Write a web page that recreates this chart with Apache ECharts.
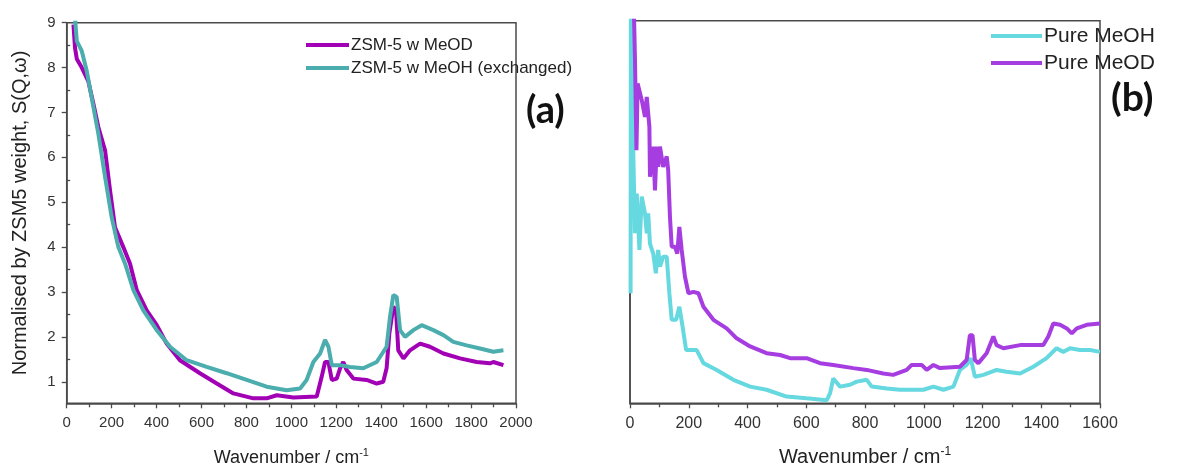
<!DOCTYPE html>
<html><head><meta charset="utf-8">
<script src="https://cdn.jsdelivr.net/npm/echarts@6/dist/echarts.min.js"></script>
<style>html,body{margin:0;padding:0;background:#fff}#c{width:1189px;height:468px}</style>
</head><body><div id="c"></div>
<script>
// Panel (a) : ZSM-5 with methanol, normalised by ZSM5 weight
const zsmMeOD = [[30,8.96],[37,8.44],[45,8.19],[67,8.0],[96,7.7],[119,7.19],[141,6.67],[171,6.15],[193,5.26],[215,4.44],[252,4.0],[282,3.63],[312,3.04],[356,2.59],[401,2.26],[445,1.85],[504,1.48],[593,1.19],[668,0.96],[742,0.74],[831,0.63],[890,0.63],[935,0.70],[1009,0.65],[1113,0.67],[1135,1.11],[1150,1.44],[1165,1.44],[1180,1.04],[1202,1.07],[1217,1.30],[1231,1.44],[1246,1.26],[1276,1.07],[1335,1.04],[1380,0.96],[1409,1.0],[1424,1.30],[1436,2.07],[1454,2.67],[1466,2.59],[1476,1.70],[1499,1.52],[1528,1.70],[1573,1.85],[1617,1.78],[1677,1.63],[1751,1.52],[1825,1.44],[1884,1.41],[1899,1.44],[1944,1.37]];
const zsmMeOHex = [[37,9.1],[45,8.59],[67,8.37],[89,7.93],[111,7.33],[141,6.52],[171,5.56],[200,4.67],[230,4.0],[260,3.63],[297,3.04],[341,2.59],[401,2.15],[460,1.78],[534,1.48],[623,1.33],[712,1.19],[801,1.04],[890,0.89],[979,0.81],[1039,0.85],[1068,1.04],[1098,1.44],[1128,1.63],[1150,1.93],[1165,1.78],[1180,1.37],[1217,1.37],[1261,1.33],[1320,1.30],[1380,1.44],[1424,1.78],[1439,2.44],[1454,2.93],[1469,2.89],[1484,2.15],[1506,2.0],[1543,2.15],[1580,2.26],[1632,2.15],[1677,2.04],[1721,1.89],[1780,1.81],[1840,1.74],[1899,1.67],[1944,1.70]];
// Panel (b) : pure liquids
const pureMeOH = [[2,2.96],[3,9.6],[11,8.13],[11,6.13],[17,4.29],[23,5.17],[32,3.92],[40,5.1],[51,4.73],[57,4.29],[62,4.73],[68,4.06],[79,3.84],[88,3.40],[96,3.92],[102,3.55],[113,3.77],[125,3.77],[134,2.96],[142,2.37],[157,2.37],[168,2.66],[179,2.22],[191,1.70],[210,1.70],[227,1.70],[250,1.41],[295,1.26],[352,1.04],[409,0.89],[465,0.82],[533,0.67],[601,0.63],[670,0.59],[681,0.74],[692,1.07],[715,0.89],[749,0.93],[772,1.0],[806,1.04],[823,0.89],[874,0.85],[919,0.82],[999,0.82],[1033,0.89],[1067,0.82],[1101,0.89],[1123,1.26],[1146,1.37],[1160,1.52],[1174,1.11],[1203,1.15],[1248,1.26],[1282,1.22],[1328,1.18],[1373,1.33],[1418,1.52],[1452,1.74],[1475,1.66],[1498,1.74],[1532,1.70],[1566,1.70],[1600,1.66]];
const pureMeOD = [[12,9.6],[17,8.13],[22,6.13],[26,7.61],[40,7.24],[51,6.87],[57,7.31],[66,6.65],[68,5.54],[79,6.21],[85,5.24],[91,6.21],[96,5.76],[102,6.21],[113,5.76],[125,5.99],[130,5.69],[136,4.66],[142,3.99],[153,3.99],[161,3.84],[168,4.43],[176,3.92],[187,3.33],[199,2.96],[216,2.99],[233,2.96],[250,2.66],[284,2.37],[329,2.18],[363,1.96],[409,1.78],[465,1.63],[511,1.59],[545,1.52],[601,1.52],[647,1.41],[692,1.37],[760,1.30],[806,1.26],[862,1.18],[896,1.15],[942,1.26],[959,1.37],[993,1.37],[1010,1.26],[1033,1.37],[1055,1.30],[1123,1.33],[1146,1.48],[1157,2.03],[1166,2.03],[1174,1.48],[1186,1.41],[1214,1.63],[1237,2.0],[1248,1.81],[1271,1.74],[1328,1.81],[1407,1.81],[1424,2.0],[1441,2.29],[1464,2.26],[1487,2.18],[1504,2.07],[1521,2.18],[1555,2.26],[1600,2.29]];
const yMajorTicks = [1,2,3,4,5,6,7,8,9];
const yMinorTicks = [1.5,2.5,3.5,4.5,5.5,6.5,7.5,8.5];
const names = ['ZSM-5 w MeOD','ZSM-5 w MeOH (exchanged)','Pure MeOH','Pure MeOD'];

const SANS = '"Liberation Sans",Arial,sans-serif';
const axisCol = '#4a4a4a';
const chart = echarts.init(document.getElementById('c'), null, {renderer:'canvas'});
const xBase = (gi, max, fs, nfs, gap) => ({
  type:'value', gridIndex:gi, min:0, max:max, interval:200,
  axisLine:{show:true, onZero:false, lineStyle:{color:axisCol, width:1.5}},
  axisTick:{show:true, length:5, lineStyle:{color:axisCol, width:1.3}},
  minorTick:{show:true, splitNumber:2, length:4, lineStyle:{color:axisCol, width:1.3}},
  splitLine:{show:false},
  axisLabel:{fontFamily:SANS, fontSize:fs, color:'#333', margin:12, formatter:v=>String(v)},
  name:'Wavenumber / cm{s|-1}', nameLocation:'middle', nameGap:gap,
  nameTextStyle:{fontFamily:SANS, fontSize:nfs, color:'#222', lineHeight:nfs+4,
    rich:{s:{fontFamily:SANS, fontSize:Math.round(nfs*0.6), verticalAlign:'top', color:'#222'}}}
});
chart.setOption({
  animation:false,
  grid:[
    {left:66.7, right:673, top:22.7, bottom:64.7, show:true, borderColor:axisCol, borderWidth:1.5, outerBoundsMode:'none', containLabel:false},
    {left:630, right:89, top:20.7, bottom:64.7, show:true, borderColor:axisCol, borderWidth:1.5, outerBoundsMode:'none', containLabel:false}
  ],
  xAxis:[ xBase(0, 2000, 15, 18, 44), xBase(1, 1600, 16, 20, 42) ],
  yAxis:[
    {type:'value', gridIndex:0, min:0.52, max:9,
     axisLine:{show:true, onZero:false, lineStyle:{color:axisCol, width:1.5}},
     axisTick:{show:true, length:5, customValues:yMajorTicks, lineStyle:{color:axisCol, width:1.3}},
     axisLabel:{fontFamily:SANS, fontSize:15, color:'#333', margin:11, customValues:yMajorTicks},
     splitLine:{show:false},
     name:'Normalised by ZSM5 weight, S(Q,\u03C9)', nameLocation:'middle', nameGap:36,
     nameTextStyle:{fontFamily:SANS, fontSize:20, color:'#222'}},
    {type:'value', gridIndex:0, min:0.52, max:9,
     axisLine:{show:false},
     axisTick:{show:true, length:3.5, customValues:yMinorTicks, lineStyle:{color:axisCol, width:1.3}},
     axisLabel:{show:false}, splitLine:{show:false}},
    {type:'value', gridIndex:1, min:0.52, max:9,
     axisLine:{show:true, onZero:false, lineStyle:{color:axisCol, width:1.5}},
     axisTick:{show:false}, axisLabel:{show:false}, splitLine:{show:false}}
  ],
  legend:[
    {data:[names[0],names[1]], orient:'vertical', left:301, top:30, itemWidth:43, itemHeight:4, itemGap:3, icon:'rect',
     textStyle:{fontFamily:SANS, fontSize:17, color:'#222', lineHeight:20, padding:[0,0,0,-3]}},
    {data:[names[2],names[3]], orient:'vertical', left:986, top:20, itemWidth:51, itemHeight:4, itemGap:5, icon:'rect',
     textStyle:{fontFamily:SANS, fontSize:21, color:'#222', lineHeight:22, padding:[0,0,0,-3]}}
  ],
  series:[
    {name:names[0], type:'line', xAxisIndex:0, yAxisIndex:0, data:zsmMeOD, showSymbol:false, lineStyle:{color:'#a100b4', width:4}, itemStyle:{color:'#a100b4'}},
    {name:names[1], type:'line', xAxisIndex:0, yAxisIndex:0, data:zsmMeOHex, showSymbol:false, lineStyle:{color:'#4badad', width:4}, itemStyle:{color:'#4badad'}},
    {name:names[2], type:'line', xAxisIndex:1, yAxisIndex:2, data:pureMeOH, showSymbol:false, lineStyle:{color:'#66d8e0', width:4}, itemStyle:{color:'#66d8e0'}},
    {name:names[3], type:'line', xAxisIndex:1, yAxisIndex:2, data:pureMeOD, showSymbol:false, lineStyle:{color:'#a63de0', width:4}, itemStyle:{color:'#a63de0'}}
  ],
  graphic:[
    {type:'text', left:526, top:92, style:{text:'(a)', font:'bold 38px Lato, "Open Sans", sans-serif', fill:'#111'}},
    {type:'text', left:1111, top:79, style:{text:'(b)', font:'bold 39px Lato, "Open Sans", sans-serif', fill:'#111'}}
  ]
});
</script></body></html>
